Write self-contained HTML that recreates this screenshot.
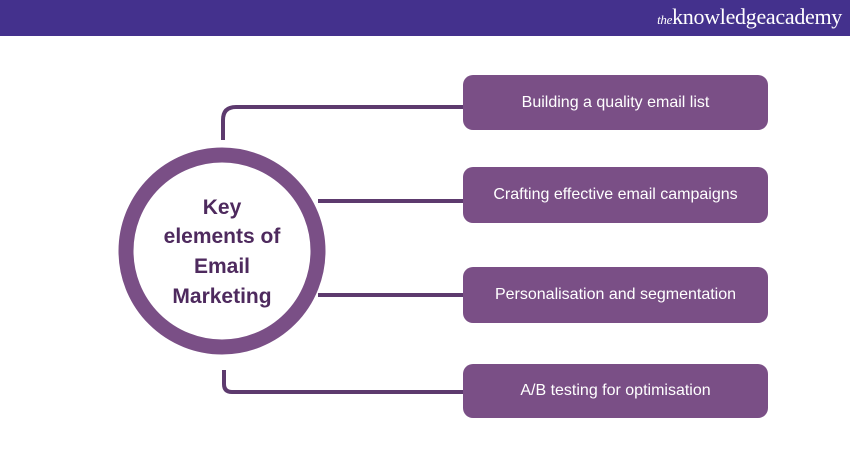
<!DOCTYPE html>
<html><head><meta charset="utf-8"><style>
body{margin:0;width:850px;height:450px;background:#fff;position:relative;overflow:hidden;font-family:"Liberation Sans",sans-serif}
.hdr{position:absolute;left:0;top:0;width:850px;height:36px;background:#44318d}
.logo{position:absolute;right:8px;top:4px;color:#fff;font-family:"Liberation Serif",serif;font-size:22px;letter-spacing:-0.3px}
.logo i{font-size:13px}
.box{position:absolute;left:463px;width:305px;background:#7a4f86;border-radius:10px;color:#fff;font-size:16px;display:flex;align-items:center;justify-content:center}
</style></head><body>
<div class="hdr"><div class="logo"><i>the</i>knowledgeacademy</div></div>
<svg width="850" height="450" style="position:absolute;left:0;top:0">
<g fill="none" stroke="#5d3a6e" stroke-width="4">
<path d="M223 140 V120 Q223 107 236 107 H464"/>
<path d="M318 201 H464"/>
<path d="M318 295 H464"/>
<path d="M224 370 V384 Q224 392 232 392 H464"/>
</g>
<circle cx="222" cy="251" r="96" fill="#fff" stroke="#7a4f86" stroke-width="15"/>
<g font-family="Liberation Sans,sans-serif" font-weight="bold" font-size="21" fill="#4e2a5e" text-anchor="middle">
<text x="222" y="214">Key</text>
<text x="222" y="243">elements of</text>
<text x="222" y="273">Email</text>
<text x="222" y="303">Marketing</text>
</g>
</svg>
<div class="box" style="top:75px;height:55px">Building a quality email list</div>
<div class="box" style="top:167px;height:56px">Crafting effective email campaigns</div>
<div class="box" style="top:267px;height:56px">Personalisation and segmentation</div>
<div class="box" style="top:364px;height:54px">A/B testing for optimisation</div>
</body></html>
